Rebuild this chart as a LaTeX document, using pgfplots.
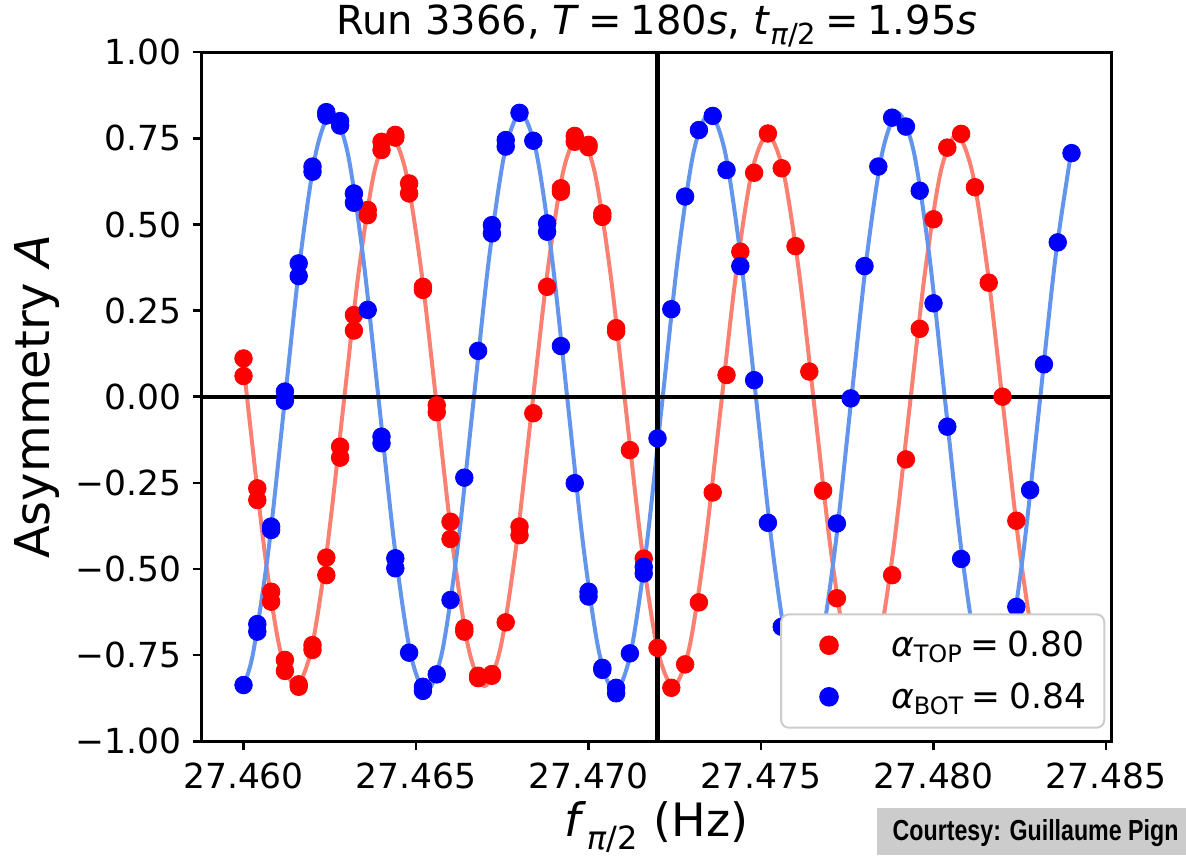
\documentclass[border=0pt]{standalone}
\usepackage{fontspec}
\setmainfont{DejaVu Sans}
\newfontfamily\courtesyfont{Liberation Sans}[FakeStretch=0.8]
\usepackage{pgfplots}
\pgfplotsset{compat=1.18}
\definecolor{salmon}{HTML}{FA8072}
\definecolor{cornflower}{HTML}{6495ED}
\definecolor{mred}{HTML}{FF0000}
\definecolor{mblue}{HTML}{0000FF}
\pgfplotsset{dotlegend/.style={legend image code/.code={\path[draw=none,fill=none] (-15pt,0pt) -- (31pt,0pt); \draw[##1] plot coordinates {(0pt,0pt)};}}}
\begin{document}
\begin{tikzpicture}
\useasboundingbox (0,0) rectangle (593pt,427.5pt);
\begin{axis}[
  at={(100.85pt,56.9pt)}, anchor=south west,
  scale only axis, width=455pt, height=344.5pt,
  xmin=27.458788, xmax=27.485165, ymin=-1, ymax=1,
  scaled x ticks=false, scaled y ticks=false,
  xtick={27.460,27.465,27.470,27.475,27.480,27.485},
  xticklabels={27.460,27.465,27.470,27.475,27.480,27.485},
  ytick={-1,-0.75,-0.5,-0.25,0,0.25,0.5,0.75,1},
  yticklabels={−1.00,−0.75,−0.50,−0.25,0.00,0.25,0.50,0.75,1.00},
  xtick pos=bottom, ytick pos=left, tick align=outside,
  major tick length=4.5pt,
  every tick/.style={black, line width=1.3pt},
  axis line style={line width=1.4pt},
  xticklabel style={font=\fontsize{17.25}{20}\selectfont, anchor=base, inner sep=0pt, yshift=-19.2pt},
  yticklabel style={font=\fontsize{17.25}{20}\selectfont, anchor=east, inner sep=0pt, xshift=-5.5pt},
  every axis title/.style={at={(axis description cs:0.5,1.025)}, anchor=base, inner sep=0pt, font=\fontsize{20}{24}\selectfont},
  every axis x label/.style={at={(axis description cs:0.5,-0.1376)}, anchor=base, inner sep=0pt, font=\fontsize{23}{27}\selectfont},
  every axis y label/.style={at={(axis description cs:-0.1667,0.5)}, rotate=90, anchor=base, inner sep=0pt, font=\fontsize{24}{28}\selectfont},
  title={Run 3366, \textit{T}\hspace{0.22em}=\hspace{0.22em}180\textit{s}, \textit{t}\raisebox{-0.25em}{\fontsize{14.5}{14.5}\selectfont\textit{π}/2}\hspace{0.22em}=\hspace{0.22em}1.95\textit{s}},
  xlabel={\textit{f}\raisebox{-0.3em}{\fontsize{16}{16}\selectfont\textit{π}/2}\hspace{0.35em}(Hz)},
  ylabel={Asymmetry \textit{A}},
  legend cell align=left,
  legend style={at={(axis description cs:0.6355,0.1856)}, anchor=north west,
    draw=black!20, line width=1pt, rounded corners=4pt, fill=white,
    inner xsep=9pt, inner ysep=8.35pt, row sep=11.6pt, column sep=0pt,
    font=\fontsize{17.25}{20}\selectfont,
    nodes={inner sep=0pt, text height=12.9pt, text depth=1.3pt}},
]
% fitted curves
\addplot[salmon, line width=2pt, smooth, forget plot] coordinates {
(27.460000,0.092) (27.460600,-0.440) (27.461056,-0.733) (27.461512,-0.840)
(27.461968,-0.733) (27.462424,-0.440) (27.462880,-0.040) (27.463336,0.360)
(27.463792,0.653) (27.464248,0.760) (27.464704,0.653) (27.465160,0.360)
(27.465616,-0.040) (27.466072,-0.440) (27.466528,-0.733) (27.466984,-0.840)
(27.467440,-0.733) (27.467896,-0.440) (27.468352,-0.040) (27.468808,0.360)
(27.469264,0.653) (27.469720,0.760) (27.470176,0.653) (27.470632,0.360)
(27.471088,-0.040) (27.471544,-0.440) (27.472000,-0.733) (27.472456,-0.840)
(27.472912,-0.733) (27.473368,-0.440) (27.473824,-0.040) (27.474280,0.360)
(27.474736,0.653) (27.475192,0.760) (27.475648,0.653) (27.476104,0.360)
(27.476560,-0.040) (27.477016,-0.440) (27.477472,-0.733) (27.477928,-0.840)
(27.478384,-0.733) (27.478840,-0.440) (27.479296,-0.040) (27.479752,0.360)
(27.480208,0.653) (27.480664,0.760) (27.481120,0.653) (27.481576,0.360)
(27.482032,-0.040) (27.482488,-0.440) (27.482944,-0.733) (27.483400,-0.840)
(27.483856,-0.733) (27.484000,-0.657)};
\addplot[cornflower, line width=2pt, smooth, forget plot] coordinates {
(27.460000,-0.839) (27.460278,-0.744) (27.460734,-0.437) (27.461190,-0.017)
(27.461646,0.403) (27.462102,0.710) (27.462558,0.823) (27.463014,0.710)
(27.463470,0.403) (27.463926,-0.017) (27.464382,-0.437) (27.464838,-0.744)
(27.465294,-0.857) (27.465750,-0.744) (27.466206,-0.437) (27.466662,-0.017)
(27.467118,0.403) (27.467574,0.710) (27.468030,0.823) (27.468486,0.710)
(27.468942,0.403) (27.469398,-0.017) (27.469854,-0.437) (27.470310,-0.744)
(27.470766,-0.857) (27.471222,-0.744) (27.471678,-0.437) (27.472134,-0.017)
(27.472590,0.403) (27.473046,0.710) (27.473502,0.823) (27.473958,0.710)
(27.474414,0.403) (27.474870,-0.017) (27.475326,-0.437) (27.475782,-0.744)
(27.476238,-0.857) (27.476694,-0.744) (27.477150,-0.437) (27.477606,-0.017)
(27.478062,0.403) (27.478518,0.710) (27.478974,0.823) (27.479430,0.710)
(27.479886,0.403) (27.480342,-0.017) (27.480798,-0.437) (27.481254,-0.744)
(27.481710,-0.857) (27.482166,-0.744) (27.482622,-0.437) (27.483078,-0.017)
(27.483534,0.403) (27.483990,0.710)};
% data points
\addplot[only marks, mark=*, mark size=4.4pt, color=mred, mark options={draw=none, fill=mred}, dotlegend]
table[row sep=\\] {
x y\\
27.4600 0.111\\ 27.4600 0.060\\ 27.4604 -0.266\\ 27.4604 -0.300\\
27.4608 -0.566\\ 27.4608 -0.595\\ 27.4612 -0.764\\ 27.4612 -0.796\\
27.4616 -0.842\\ 27.4616 -0.835\\ 27.4620 -0.721\\ 27.4620 -0.735\\
27.4624 -0.467\\ 27.4624 -0.518\\ 27.4628 -0.145\\ 27.4628 -0.177\\
27.4632 0.237\\ 27.4632 0.192\\ 27.4636 0.542\\ 27.4636 0.527\\
27.4640 0.740\\ 27.4640 0.716\\ 27.4644 0.760\\ 27.4644 0.752\\
27.4648 0.619\\ 27.4648 0.590\\ 27.4652 0.319\\ 27.4652 0.310\\
27.4656 -0.025\\ 27.4656 -0.045\\ 27.4660 -0.363\\ 27.4660 -0.413\\
27.4664 -0.672\\ 27.4664 -0.682\\ 27.4668 -0.817\\ 27.4668 -0.810\\
27.4672 -0.810\\ 27.4672 -0.805\\ 27.4676 -0.655\\ 27.4680 -0.377\\
27.4680 -0.402\\ 27.4684 -0.048\\ 27.4688 0.319\\ 27.4692 0.605\\
27.4692 0.595\\ 27.4696 0.757\\ 27.4696 0.740\\ 27.4700 0.731\\
27.4700 0.724\\ 27.4704 0.532\\ 27.4704 0.522\\ 27.4708 0.199\\
27.4708 0.189\\ 27.4712 -0.155\\ 27.4716 -0.470\\ 27.4720 -0.729\\
27.4724 -0.845\\ 27.4728 -0.777\\ 27.4732 -0.597\\ 27.4736 -0.278\\
27.4740 0.063\\ 27.4744 0.421\\ 27.4748 0.650\\ 27.4752 0.764\\
27.4756 0.663\\ 27.4760 0.437\\ 27.4764 0.073\\ 27.4768 -0.273\\
27.4772 -0.585\\ 27.4776 -0.760\\ 27.4780 -0.840\\ 27.4784 -0.760\\
27.4788 -0.518\\ 27.4792 -0.182\\ 27.4796 0.197\\ 27.4800 0.515\\
27.4804 0.723\\ 27.4808 0.763\\ 27.4812 0.608\\ 27.4816 0.331\\
27.4820 0.000\\ 27.4824 -0.360\\ 27.4828 -0.680\\ 27.4832 -0.820\\
27.4836 -0.810\\ 27.4840 -0.670\\
};
\addlegendentry{\textit{α}\raisebox{-3pt}{\fontsize{12}{12}\selectfont TOP}\hspace{0.25em}=\hspace{0.25em}0.80}
\addplot[only marks, mark=*, mark size=4.4pt, color=mblue, mark options={draw=none, fill=mblue}, dotlegend]
table[row sep=\\] {
x y\\
27.4600 -0.837\\ 27.4604 -0.660\\ 27.4604 -0.682\\ 27.4608 -0.377\\
27.4608 -0.387\\ 27.4612 0.015\\ 27.4612 -0.012\\ 27.4616 0.387\\
27.4616 0.350\\ 27.4620 0.668\\ 27.4620 0.653\\ 27.4624 0.826\\
27.4624 0.816\\ 27.4628 0.800\\ 27.4628 0.787\\ 27.4632 0.590\\
27.4632 0.563\\ 27.4636 0.252\\ 27.4640 -0.116\\ 27.4640 -0.135\\
27.4644 -0.469\\ 27.4644 -0.498\\ 27.4648 -0.743\\ 27.4652 -0.842\\
27.4652 -0.854\\ 27.4656 -0.806\\ 27.4660 -0.590\\ 27.4664 -0.235\\
27.4668 0.133\\ 27.4672 0.498\\ 27.4672 0.474\\ 27.4676 0.745\\
27.4676 0.726\\ 27.4680 0.824\\ 27.4684 0.743\\ 27.4688 0.503\\
27.4688 0.479\\ 27.4692 0.147\\ 27.4696 -0.251\\ 27.4700 -0.566\\
27.4700 -0.580\\ 27.4704 -0.787\\ 27.4704 -0.793\\ 27.4708 -0.845\\
27.4708 -0.861\\ 27.4712 -0.745\\ 27.4716 -0.494\\ 27.4716 -0.513\\
27.4720 -0.121\\ 27.4724 0.254\\ 27.4728 0.581\\ 27.4732 0.774\\
27.4736 0.815\\ 27.4740 0.658\\ 27.4744 0.379\\ 27.4748 0.048\\
27.4752 -0.366\\ 27.4756 -0.668\\ 27.4760 -0.840\\ 27.4764 -0.830\\
27.4768 -0.690\\ 27.4772 -0.368\\ 27.4776 -0.005\\ 27.4780 0.379\\
27.4784 0.668\\ 27.4788 0.810\\ 27.4792 0.784\\ 27.4796 0.598\\
27.4800 0.271\\ 27.4804 -0.087\\ 27.4808 -0.471\\ 27.4812 -0.760\\
27.4816 -0.850\\ 27.4820 -0.820\\ 27.4824 -0.610\\ 27.4828 -0.271\\
27.4832 0.094\\ 27.4836 0.448\\ 27.4840 0.707\\
};
\addlegendentry{\textit{α}\raisebox{-3pt}{\fontsize{12}{12}\selectfont BOT}\hspace{0.25em}=\hspace{0.25em}0.84}
% reference lines
\addplot[black, line width=2.1pt, forget plot] coordinates {(27.472,-1) (27.472,1)};
\addplot[black, line width=2.1pt, forget plot] coordinates {(27.458788,0) (27.485165,0)};
\end{axis}
\fill[black!20] (438.35pt,0pt) rectangle (600pt,23.35pt);
\node[anchor=base west, inner sep=0pt, font=\courtesyfont\bfseries\fontsize{14.5}{16}\selectfont] at (446.15pt,7.15pt) {Courtesy: Guillaume Pign};
\end{tikzpicture}
\end{document}
